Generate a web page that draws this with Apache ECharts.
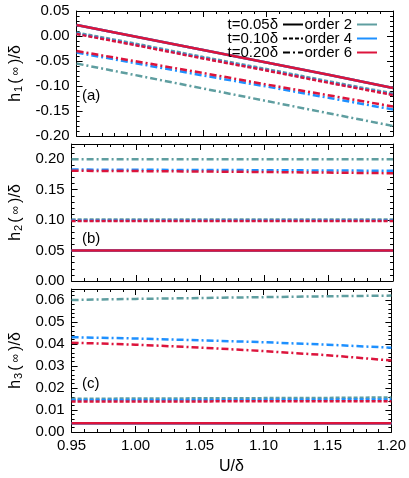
<!DOCTYPE html>
<html>
<head>
<meta charset="utf-8">
<title>h(inf) vs U</title>
<style>
  html, body { margin: 0; padding: 0; background: #fff; overflow: hidden; }
</style>
</head>
<body>
<div id="chart" style="width: 409px; height: 478px;"></div>
<script src="https://cdn.jsdelivr.net/npm/echarts@6/dist/echarts.min.js"></script>
<script>
// U/delta sample points
var uVals = [0.95, 1.00, 1.05, 1.10, 1.15, 1.20];

// panel (a) h1, rows = order 2, order 4, order 6
var h1_t05 = [
  [0.022, -0.003, -0.028, -0.053, -0.078, -0.104],
  [0.022, -0.003, -0.028, -0.053, -0.078, -0.104],
  [0.022, -0.003, -0.028, -0.053, -0.078, -0.104]
];
var h1_t10 = [
  [0.007, -0.017, -0.042, -0.066, -0.091, -0.115],
  [0.005, -0.019, -0.044, -0.068, -0.093, -0.117],
  [0.004, -0.020, -0.045, -0.069, -0.094, -0.118]
];
var h1_t20 = [
  [-0.055, -0.080, -0.105, -0.130, -0.155, -0.180],
  [-0.033, -0.056, -0.079, -0.101, -0.124, -0.147],
  [-0.030, -0.052, -0.074, -0.097, -0.119, -0.141]
];

// panel (b) h2
var h2_t05 = [
  [0.050, 0.050, 0.050, 0.050, 0.050, 0.050],
  [0.050, 0.050, 0.050, 0.050, 0.050, 0.050],
  [0.050, 0.050, 0.050, 0.050, 0.050, 0.050]
];
var h2_t10 = [
  [0.101, 0.101, 0.101, 0.101, 0.101, 0.101],
  [0.0995, 0.0995, 0.0995, 0.0995, 0.0995, 0.0995],
  [0.0985, 0.0985, 0.0985, 0.0985, 0.0985, 0.0985]
];
var h2_t20 = [
  [0.200, 0.200, 0.200, 0.200, 0.200, 0.200],
  [0.183, 0.1827, 0.1823, 0.182, 0.1815, 0.181],
  [0.181, 0.1805, 0.1798, 0.179, 0.178, 0.177]
];

// panel (c) h3
var h3_t05 = [
  [0.004, 0.004, 0.004, 0.004, 0.004, 0.004],
  [0.004, 0.004, 0.004, 0.004, 0.004, 0.004],
  [0.004, 0.004, 0.004, 0.004, 0.004, 0.004]
];
var h3_t10 = [
  [0.0151, 0.0152, 0.0153, 0.0154, 0.0155, 0.0157],
  [0.0145, 0.0145, 0.0146, 0.0146, 0.0147, 0.0148],
  [0.0139, 0.0139, 0.0139, 0.0140, 0.0140, 0.0140]
];
var h3_t20 = [
  [0.0600, 0.0605, 0.0609, 0.0613, 0.0617, 0.0620],
  [0.0431, 0.0425, 0.0417, 0.0408, 0.0397, 0.0383],
  [0.0406, 0.0397, 0.0384, 0.0368, 0.0349, 0.0325]
];

var tLabels = ['t=0.05δ', 't=0.10δ', 't=0.20δ'];
var orderLabels = ['order 2', 'order 4', 'order 6'];
var panelLabels = ['(a)', '(b)', '(c)'];

var colors = ['#5f9ea0', '#1e90ff', '#dc143c'];
var dashTypes = ['solid', [4, 2], [7, 3, 2, 3]];
var FONT = 'Liberation Sans, Arial, sans-serif';

var grids = [
  { left: 64, right: 16, top: 11, height: 125 },
  { left: 64, right: 16, top: 144, height: 137 },
  { left: 64, right: 16, top: 289, height: 143 }
];
var yRanges = [
  { min: -0.20, max: 0.05, interval: 0.05 },
  { min: 0, max: 0.225, interval: 0.05 },
  { min: 0, max: 0.065, interval: 0.01 }
];

function fmt(v) {
  var s = v.toFixed(2);
  return s === '-0.00' ? '0.00' : s;
}

var xAxes = [], yAxes = [];
grids.forEach(function (g, i) {
  var last = i === 2;
  ['bottom', 'top'].forEach(function (pos) {
    var main = pos === 'bottom';
    xAxes.push({
      type: 'value', gridIndex: i, position: pos,
      min: 0.95, max: 1.20, interval: 0.05,
      name: main && last ? 'U/δ' : '',
      nameLocation: 'middle', nameGap: 27,
      nameTextStyle: { fontFamily: FONT, fontSize: 16, color: '#000' },
      axisLine: { show: true, onZero: false, lineStyle: { color: '#000', width: 1 } },
      axisTick: { show: true, inside: true, length: 6, lineStyle: { color: '#000' } },
      minorTick: { show: true, splitNumber: 5, length: 3, lineStyle: { color: '#000' } },
      axisLabel: {
        show: main && last, fontFamily: FONT, fontSize: 15, color: '#000', margin: 6,
        formatter: fmt
      },
      splitLine: { show: false }
    });
  });
  var sub = ['1', '2', '3'][i];
  ['left', 'right'].forEach(function (pos) {
    var main = pos === 'left';
    yAxes.push({
      type: 'value', gridIndex: i, position: pos,
      min: yRanges[i].min, max: yRanges[i].max, interval: yRanges[i].interval,
      name: main ? '{h|h}{s|' + sub + '}{h|(}{i|∞}{h|)/δ}' : '',
      nameLocation: 'middle', nameRotate: 90, nameGap: 42,
      nameTextStyle: {
        fontFamily: FONT, fontSize: 16, color: '#000',
        rich: {
          h: { fontFamily: FONT, fontSize: 16, color: '#000', padding: [0, 1, 0, 1] },
          s: { fontFamily: FONT, fontSize: 11, color: '#000', verticalAlign: 'bottom', padding: [6, 1, 0, 0] },
          i: { fontFamily: FONT, fontSize: 12, color: '#000', padding: [0, 2, 0, 2] }
        }
      },
      axisLine: { show: true, onZero: false, lineStyle: { color: '#000', width: 1 } },
      axisTick: { show: true, inside: true, length: 6, lineStyle: { color: '#000' } },
      minorTick: { show: true, splitNumber: 5, length: 3, lineStyle: { color: '#000' } },
      axisLabel: {
        show: main, fontFamily: FONT, fontSize: 15, color: '#000', margin: 7,
        showMaxLabel: i === 0, formatter: fmt
      },
      splitLine: { show: false }
    });
  });
});

var panelData = [
  [h1_t05, h1_t10, h1_t20],
  [h2_t05, h2_t10, h2_t20],
  [h3_t05, h3_t10, h3_t20]
];

var series = [];
panelData.forEach(function (panel, p) {
  panel.forEach(function (rows, t) {
    rows.forEach(function (vals, o) {
      series.push({
        type: 'line',
        name: 'p' + p + 't' + t + 'o' + o,
        xAxisIndex: p * 2, yAxisIndex: p * 2,
        showSymbol: false, symbol: 'none', silent: true,
        animation: false,
        lineStyle: { color: colors[o], width: 2.5, type: dashTypes[t], cap: 'butt' },
        data: uVals.map(function (u, k) { return [u, vals[k]]; })
      });
    });
  });
});

// legend-only series
tLabels.forEach(function (name, t) {
  series.push({
    type: 'line', name: name, xAxisIndex: 0, yAxisIndex: 0, data: [],
    symbol: 'none', color: '#000',
    lineStyle: { color: '#000', width: 2.5, type: dashTypes[t] }
  });
});
orderLabels.forEach(function (name, o) {
  series.push({
    type: 'line', name: name, xAxisIndex: 0, yAxisIndex: 0, data: [],
    symbol: 'none', color: colors[o],
    lineStyle: { color: colors[o], width: 2.5 }
  });
});

var legendBase = {
  orient: 'vertical', align: 'right', top: 17, padding: 0,
  itemWidth: 20, itemHeight: 10, itemGap: -1,
  selectedMode: false,
  itemStyle: { color: 'rgba(0,0,0,0)', borderColor: 'rgba(0,0,0,0)', borderWidth: 0 },
  textStyle: { fontFamily: FONT, fontSize: 15, color: '#000', lineHeight: 10 }
};

var option = {
  animation: false,
  grid: grids,
  xAxis: xAxes,
  yAxis: yAxes,
  legend: [
    Object.assign({}, legendBase, { right: 105, data: tLabels }),
    Object.assign({}, legendBase, { right: 31, data: orderLabels })
  ],
  graphic: panelLabels.map(function (lab, i) {
    return {
      type: 'text', left: 82, top: [88, 231, 376][i],
      style: { text: lab, font: '15px ' + FONT, fill: '#000' }
    };
  }),
  series: series
};

var chart = echarts.init(document.getElementById('chart'));
chart.setOption(option);
</script>
</body>
</html>
